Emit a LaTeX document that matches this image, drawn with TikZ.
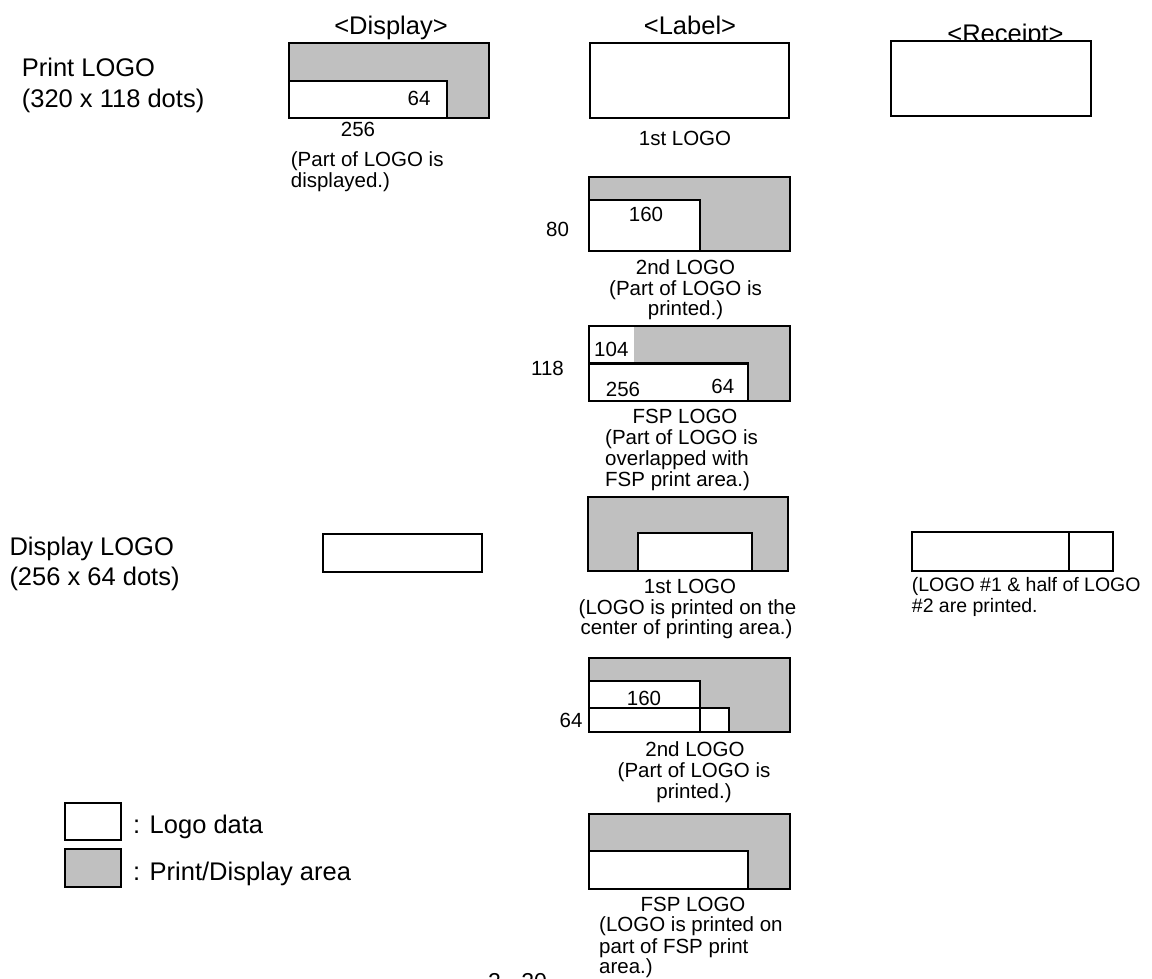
\documentclass[tikz,border=0pt]{standalone}
\usepackage{fontspec}
\setmainfont{Liberation Sans}
\definecolor{areagray}{RGB}{192,192,192}
\tikzset{
  area/.style={fill=areagray},
  frame/.style={draw=black,line width=2.2pt},
  logobox/.style={draw=black,fill=white,line width=2.2pt},
  sm/.style={font=\fontsize{20.5}{21}\selectfont,inner sep=0pt,anchor=base},
  smw/.style={sm,anchor=base west},
  bg/.style={font=\fontsize{25.5}{30}\selectfont,inner sep=0pt,anchor=base west},
  hdr/.style={font=\fontsize{25.5}{26}\selectfont,inner sep=0pt,anchor=base},
}
\begin{document}
\begin{tikzpicture}[x=1pt,y=-1pt]
\useasboundingbox (0,0) rectangle (1152,979);
\clip (0,0) rectangle (1152,979);
\fill[white] (0,0) rectangle (1152,979);

% headers
\node[hdr] (hDisp) at (391,35) {<Display>};
\node[hdr] (hLab) at (690,35) {<Label>};
\node[hdr] (hRec) at (1005.5,43) {<Receipt>};

% left labels
\node[bg] (pl1) at (21.7,77) {Print LOGO};
\node[bg] (pl2) at (21.7,108) {(320 x 118 dots)};
\node[bg] (dl1) at (9.3,555) {Display LOGO};
\node[bg] (dl2) at (9.3,585) {(256 x 64 dots)};

% Print LOGO / Display
\fill[area] (289.3,43.3) rectangle (489,117.7);
\draw[logobox] (289.3,81) rectangle (446.7,117.7);
\draw[frame] (289.3,43.3) rectangle (489,117.7);
\node[sm] (d64) at (419,106) {64};
\node[sm] (d256) at (358,137) {256};
\node[smw] (dp1) at (290.7,167) {(Part of LOGO is};
\node[smw] (dp2) at (290.7,187) {displayed.)};

% Print LOGO / Label 1st
\draw[logobox] (590,43.3) rectangle (789.3,117.7);
\node[sm] (l1t) at (685,145.7) {1st LOGO};

% Print LOGO / Receipt
\draw[logobox] (890.7,41) rectangle (1090.7,116);

% Print LOGO / Label 2nd
\fill[area] (589.3,177.3) rectangle (790,251);
\draw[logobox] (589.3,200) rectangle (700,251);
\draw[frame] (589.3,177.3) rectangle (790,251);
\node[sm] (l2a) at (646,222) {160};
\node[sm] (l2b) at (557.5,236.7) {80};
\node[sm] (l2c) at (685.5,274) {2nd LOGO};
\node[sm] (l2d) at (685.5,295) {(Part of LOGO is};
\node[sm] (l2e) at (685.5,315.7) {printed.)};

% Print LOGO / Label FSP
\fill[area] (589.3,326) rectangle (790,400.7);
\fill[white] (589.3,326) rectangle (634,363.5);
\draw[logobox] (589.3,363.5) rectangle (748.3,400.7);
\draw[frame] (589.3,326) rectangle (790,400.7);
\node[smw] (lfa) at (594,356.7) {104};
\node[sm] (lfb) at (547.5,375) {118};
\node[sm] (lfc) at (623,396.7) {256};
\node[sm] (lfd) at (722.8,393) {64};
\node[sm] (lfe) at (685,423.3) {FSP LOGO};
\node[smw] (lff) at (605,444.3) {(Part of LOGO is};
\node[smw] (lfg) at (605,465) {overlapped with};
\node[smw] (lfh) at (605,486.7) {FSP print area.)};

% Display LOGO / Display
\draw[logobox] (323.3,534.3) rectangle (481.7,572.3);

% Display LOGO / Label 1st
\fill[area] (587.7,496.7) rectangle (788.3,571);
\draw[logobox] (638.3,533.3) rectangle (751.7,571);
\draw[frame] (587.7,496.7) rectangle (788.3,571);
\node[sm] (m1a) at (690,593.3) {1st LOGO};
\node[sm] (m1b) at (687.5,614) {(LOGO is printed on the};
\node[sm] (m1c) at (686.5,634.7) {center of printing area.)};

% Display LOGO / Receipt
\draw[logobox] (911.7,532.3) rectangle (1112.7,570.7);
\draw[frame] (1069,532.3) -- (1069,570.7);
\node[smw,font=\fontsize{19.5}{20}\selectfont] (r1) at (911.7,591.7) {(LOGO \#1 \& half of LOGO};
\node[smw,font=\fontsize{19.5}{20}\selectfont] (r2) at (911.7,612.3) {\#2 are printed.};

% Display LOGO / Label 2nd
\fill[area] (589.3,657.7) rectangle (790,732.3);
\draw[logobox] (589.3,681) rectangle (700,708.3);
\draw[logobox] (589.3,708.3) rectangle (700,732.3);
\draw[logobox] (700,708.3) rectangle (729.3,732.3);
\draw[frame] (589.3,657.7) rectangle (790,732.3);
\node[sm] (m2a) at (644,705.7) {160};
\node[sm] (m2b) at (571,727.3) {64};
\node[sm] (m2c) at (695,756.7) {2nd LOGO};
\node[sm] (m2d) at (694,777.3) {(Part of LOGO is};
\node[sm] (m2e) at (694,798.3) {printed.)};

% Display LOGO / Label FSP
\fill[area] (589.3,814) rectangle (790,889);
\draw[logobox] (589.3,851) rectangle (748.3,889);
\draw[frame] (589.3,814) rectangle (790,889);
\node[sm] (mfa) at (693,911.7) {FSP LOGO};
\node[smw] (mfb) at (599,931.7) {(LOGO is printed on};
\node[smw] (mfc) at (599,953.3) {part of FSP print};
\node[smw] (mfd) at (599,973.3) {area.)};

% legend
\draw[logobox] (65,803) rectangle (121,840);
\draw[logobox,fill=areagray] (65,849.3) rectangle (121,886.7);
\node[bg] (lg1) at (133,833) {: Logo data};
\node[bg] (lg2) at (133,880) {: Print/Display area};

% page number (cut off at the lower edge, as in the reference)
\node[font=\fontsize{23}{23}\selectfont,inner sep=0pt,anchor=base west] (pg) at (488,989.5) {2 - 20};
\end{tikzpicture}
\end{document}
